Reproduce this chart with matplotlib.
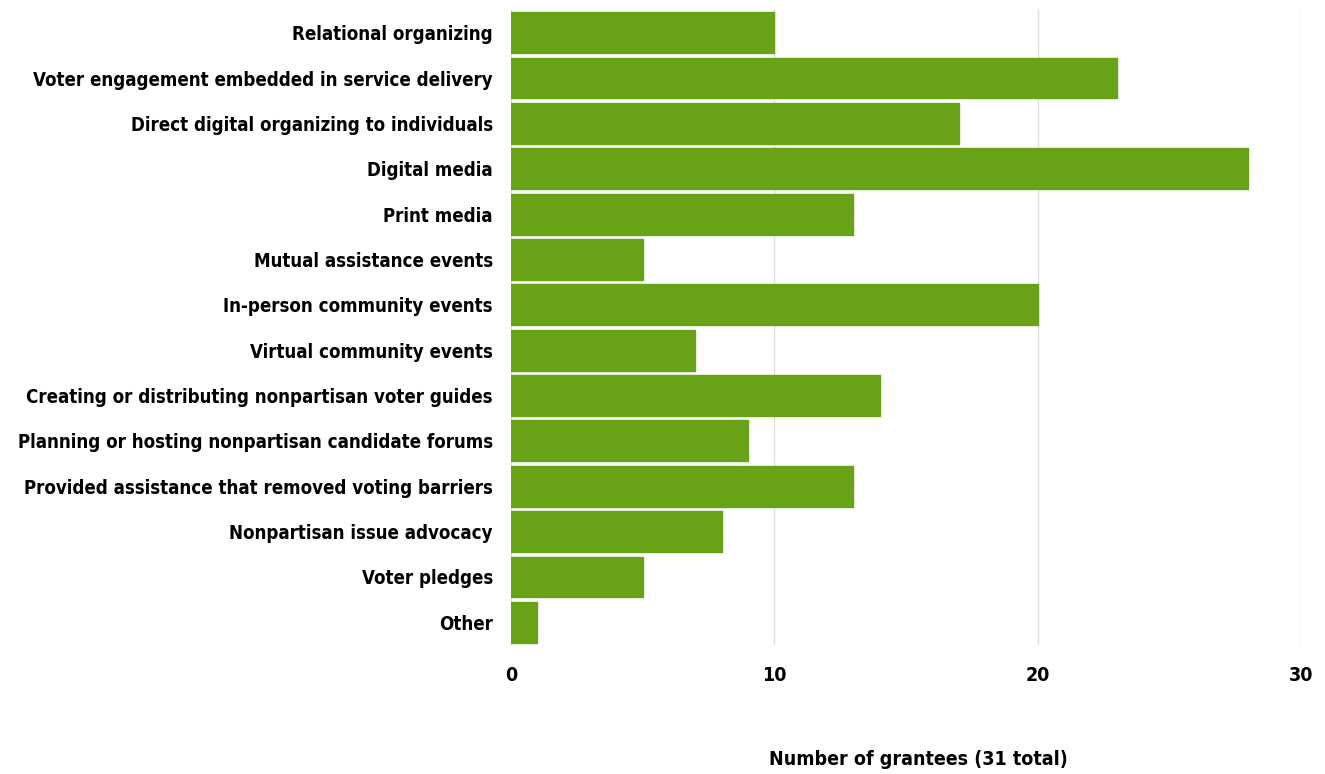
"""Horizontal bar chart: voter engagement tactics used by grantees."""

import matplotlib
matplotlib.use("Agg")
import matplotlib.pyplot as plt

CATEGORIES = [
    "Relational organizing",
    "Voter engagement embedded in service delivery",
    "Direct digital organizing to individuals",
    "Digital media",
    "Print media",
    "Mutual assistance events",
    "In-person community events",
    "Virtual community events",
    "Creating or distributing nonpartisan voter guides",
    "Planning or hosting nonpartisan candidate forums",
    "Provided assistance that removed voting barriers",
    "Nonpartisan issue advocacy",
    "Voter pledges",
    "Other",
]
COUNTS = [10, 23, 17, 28, 13, 5, 20, 7, 14, 9, 13, 8, 5, 1]
X_TICKS = [0, 10, 20, 30]

BAR_COLOR = "#68a217"

plt.rcParams["font.family"] = ["DejaVu Sans"]
plt.rcParams["font.stretch"] = "condensed"
plt.rcParams["font.weight"] = "bold"

fig = plt.figure(figsize=(13.25, 7.74), dpi=100)
ax = fig.add_axes([0.3857, 0.1667, 0.5962, 0.8203])

y = range(len(CATEGORIES))
ax.barh(y, COUNTS, height=0.9, color=BAR_COLOR, edgecolor=BAR_COLOR,
        linewidth=1, joinstyle="round", zorder=2)
ax.set_ylim(len(CATEGORIES) - 0.5, -0.5)
ax.set_xlim(0, 30)
ax.set_yticks(list(y), CATEGORIES, fontsize=13.4, fontweight="bold",
              fontstretch="condensed")
ax.set_xticks(X_TICKS, [str(t) for t in X_TICKS], fontsize=14, fontweight="bold",
              fontstretch="condensed")
ax.tick_params(axis="both", length=0)
ax.tick_params(axis="y", pad=13)
ax.tick_params(axis="x", pad=15)
ax.grid(True, axis="x", color="#dddddd", linewidth=1, zorder=0)
for spine in ax.spines.values():
    spine.set_visible(False)
ax.set_xlabel("Number of grantees (31 total)", fontsize=14, fontweight="bold",
              fontstretch="condensed", labelpad=47)
ax.xaxis.label.set_x(0.515)

fig.savefig("out.png", dpi=100)
